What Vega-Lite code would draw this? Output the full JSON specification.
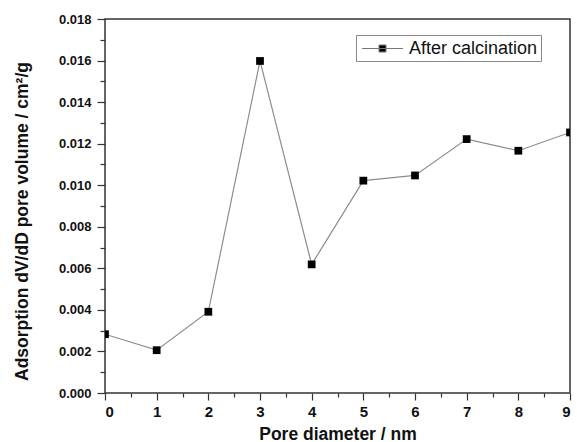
{
  "$schema": "https://vega.github.io/schema/vega-lite/v6.json",
  "width": 465,
  "height": 374,
  "autosize": {"type": "none"},
  "padding": {"left": 105, "top": 19, "right": 7, "bottom": 49},
  "background": "white",
  "config": {
    "font": "Liberation Sans",
    "view": {"stroke": "#333333", "strokeWidth": 1.5},
    "axis": {"grid": false, "domain": false, "tickColor": "#333333", "tickWidth": 1.2, "labelColor": "#111111", "titleColor": "#111111", "labelFont": "Liberation Sans", "titleFont": "Liberation Sans"}
  },
  "data": {
    "values": [
      {"d": 0, "v": 0.00283},
      {"d": 1, "v": 0.00206},
      {"d": 2, "v": 0.00391},
      {"d": 3, "v": 0.01598},
      {"d": 4, "v": 0.00619},
      {"d": 5, "v": 0.01022},
      {"d": 6, "v": 0.01047},
      {"d": 7, "v": 0.01222},
      {"d": 8, "v": 0.01166},
      {"d": 9, "v": 0.01254}
    ]
  },
  "layer": [
    {
      "mark": {"type": "line", "color": "#8c8c8c", "strokeWidth": 1.2, "clip": true},
      "encoding": {
        "x": {"field": "d", "type": "quantitative", "scale": {"domain": [0, 9], "nice": false, "zero": false},
          "axis": {"orient": "bottom", "values": [0.5, 1.5, 2.5, 3.5, 4.5, 5.5, 6.5, 7.5, 8.5], "labels": false, "tickSize": 4, "title": null}},
        "y": {"field": "v", "type": "quantitative", "scale": {"domain": [0, 0.018], "nice": false},
          "axis": {"orient": "left", "values": [0.001, 0.003, 0.005, 0.007, 0.009, 0.011, 0.013, 0.015, 0.017], "labels": false, "tickSize": 5, "title": null}}
      }
    },
    {
      "mark": {"type": "point", "shape": "square", "filled": true, "size": 60, "opacity": 1, "strokeWidth": 0, "clip": true},
      "encoding": {
        "x": {"field": "d", "type": "quantitative", "scale": {"domain": [0, 9], "nice": false, "zero": false},
          "axis": {"orient": "bottom", "values": [0, 1, 2, 3, 4, 5, 6, 7, 8, 9], "format": "d", "tickSize": 7, "labelPadding": 4, "labelFontSize": 15, "labelFontWeight": "bold", "title": "Pore diameter / nm", "titleFontSize": 17.5, "titleFontWeight": "bold", "titlePadding": 6}},
        "y": {"field": "v", "type": "quantitative", "scale": {"domain": [0, 0.018], "nice": false},
          "axis": {"orient": "left", "values": [0, 0.002, 0.004, 0.006, 0.008, 0.01, 0.012, 0.014, 0.016, 0.018], "format": ".3f", "tickSize": 8, "labelPadding": 6, "labelFontSize": 13, "labelFontWeight": "bold", "title": "Adsorption dV/dD pore volume / cm²/g", "titleFontSize": 17.5, "titleFontWeight": "bold", "titlePadding": 27, "titleY": 202}},
        "color": {"datum": "After calcination", "scale": {"range": ["black"]},
          "legend": {"orient": "none", "legendX": 251, "legendY": 16, "title": null, "symbolType": "M-2.05,0H2.05M-0.35,-0.35H0.35V0.35H-0.35Z", "symbolSize": 400, "symbolStrokeWidth": 1, "symbolStrokeColor": "#777777", "symbolFillColor": "black", "symbolOffset": 13, "strokeColor": "#888888", "padding": 3, "labelFontSize": 18, "labelFont": "Liberation Sans", "labelColor": "#111111", "labelOffset": 16,
            "encode": {"symbols": {"update": {"stroke": {"value": "#777777"}, "fill": {"value": "black"}, "strokeWidth": {"value": 1}}}}}}
      }
    }
  ],
  "resolve": {"axis": {"x": "independent", "y": "independent"}}
}
